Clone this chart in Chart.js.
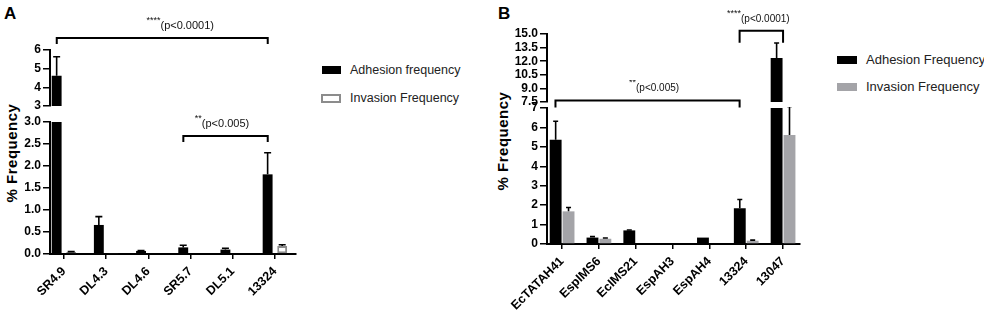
<!DOCTYPE html>
<html>
<head>
<meta charset="utf-8">
<title>Adhesion and invasion frequency</title>
<script src="https://cdn.jsdelivr.net/npm/chart.js"></script>
<style>
  body { margin: 0; background: #fff; font-family: "Liberation Sans", Arial, sans-serif; }
  #wrap { position: relative; width: 984px; height: 318px; overflow: hidden; }
  #wrap canvas { position: absolute; }
  .panel { position: absolute; font-weight: bold; font-size: 17px; line-height: 17px; }
  .ytitle {
    position: absolute; font-weight: bold; font-size: 15px; letter-spacing: 0.5px; white-space: nowrap;
    transform: translate(-50%, -50%) rotate(-90deg);
  }
  .key { position: absolute; color: #222; white-space: nowrap; line-height: 14px; }
  .swatch { position: absolute; box-sizing: border-box; }
</style>
</head>
<body>
<div id="wrap">
  <div class="panel" style="left:4px;top:5px">A</div>
  <div class="panel" style="left:498px;top:5px">B</div>
  <div class="ytitle" style="left:11px;top:153px">% Frequency</div>
  <div class="ytitle" style="left:502px;top:141px">% Frequency</div>

  <canvas id="topA" width="310" height="110" style="left:0;top:0"></canvas>
  <canvas id="botA" width="310" height="218" style="left:0;top:100px"></canvas>
  <canvas id="topB" width="330" height="106" style="left:490px;top:0"></canvas>
  <canvas id="botB" width="330" height="238" style="left:490px;top:80px"></canvas>

  <!-- legends -->
  <div class="swatch" style="left:322px;top:66px;width:19px;height:8px;background:#000"></div>
  <div class="key" style="left:350px;top:63px;font-size:12.5px">Adhesion frequency</div>
  <div class="swatch" style="left:321px;top:94px;width:20px;height:9px;background:#fff;border:2px solid #8c8c8c"></div>
  <div class="key" style="left:350px;top:91px;font-size:12.5px">Invasion Frequency</div>

  <div class="swatch" style="left:837px;top:56px;width:20px;height:8px;background:#000"></div>
  <div class="key" style="left:866px;top:53px;font-size:13px">Adhesion Frequency</div>
  <div class="swatch" style="left:837px;top:83px;width:20px;height:8px;background:#a4a4a8"></div>
  <div class="key" style="left:866px;top:80px;font-size:13px">Invasion Frequency</div>
</div>

<script>
  // ----- Panel A data -----
  const catsA = ['SR4.9', 'DL4.3', 'DL4.6', 'SR5.7', 'DL5.1', '13324'];
  const adhesionA = [4.62, 0.66, 0.07, 0.15, 0.10, 1.81];
  const adhesionSdA = [1.02, 0.19, 0.01, 0.05, 0.03, 0.49];
  const invasionA = [0.045, 0.01, 0.0, 0.0, 0.0, 0.18];
  const invasionSdA = [0.01, 0.0, 0.0, 0.0, 0.0, 0.03];
  const ticksTopA = [3, 4, 5, 6];
  const ticksBottomA = [0, 0.5, 1, 1.5, 2, 2.5, 3];

  // ----- Panel B data -----
  const catsB = ['EcTATAH41', 'EspIMS6', 'EcIMS21', 'EspAH3', 'EspAH4', '13324', '13047'];
  const adhesionB = [5.37, 0.33, 0.70, 0.0, 0.33, 1.84, 12.35];
  const adhesionSdB = [0.95, 0.05, 0.02, 0.0, 0.0, 0.45, 1.65];
  const invasionB = [1.68, 0.27, 0.0, 0.0, 0.0, 0.17, 5.61];
  const invasionSdB = [0.2, 0.04, 0.0, 0.0, 0.0, 0.03, 1.47];
  const ticksTopB = [7.5, 9, 10.5, 12, 13.5, 15];
  const ticksBottomB = [0, 1, 2, 3, 4, 5, 6, 7];

  const FONT = '"Liberation Sans", Arial, sans-serif';

  // error bars (mean + SD, upward only) and significance brackets
  const extras = {
    id: 'extras',
    afterDatasetsDraw(chart, args, opts) {
      const ctx = chart.ctx, xs = chart.scales.x, ys = chart.scales.y, a = chart.chartArea;
      ctx.save();
      ctx.beginPath();
      ctx.rect(a.left, a.top - 1, a.right - a.left, a.bottom - a.top + 1);
      ctx.clip();
      ctx.strokeStyle = '#000';
      ctx.lineWidth = 1.6;
      chart.data.datasets.forEach((ds, di) => {
        const meta = chart.getDatasetMeta(di);
        ds.sd.forEach((sd, i) => {
          if (!sd) return;
          const x = meta.data[i].x;
          const y0 = ys.getPixelForValue(ds.vals[i]);
          const y1 = ys.getPixelForValue(ds.vals[i] + sd);
          ctx.beginPath();
          ctx.moveTo(x, y0); ctx.lineTo(x, y1);
          ctx.moveTo(x - opts.cap, y1); ctx.lineTo(x + opts.cap, y1);
          ctx.stroke();
        });
      });
      ctx.restore();

      ctx.save();
      ctx.strokeStyle = '#000';
      ctx.fillStyle = '#111';
      ctx.lineWidth = 2;
      (opts.brackets || []).forEach(b => {
        const x1 = xs.getPixelForValue(b.from), x2 = xs.getPixelForValue(b.to);
        const y = ys.getPixelForValue(b.at);
        ctx.beginPath();
        ctx.moveTo(x1, y + b.drop); ctx.lineTo(x1, y); ctx.lineTo(x2, y); ctx.lineTo(x2, y + b.drop);
        ctx.stroke();
        ctx.font = b.size + 'px ' + FONT;
        const w = ctx.measureText(b.text).width;
        const tx = (x1 + x2) / 2 - w / 2 + (b.dx || 0);
        ctx.textAlign = 'left';
        ctx.textBaseline = 'alphabetic';
        ctx.fillText(b.text, tx, y - 9);
        ctx.font = '9px ' + FONT;
        ctx.textAlign = 'right';
        ctx.fillText(b.stars, tx, y - 15);
      });
      ctx.restore();
    }
  };

  function segment(id, o) {
    const lo = o.ticks[0];
    const keep = v => (lo === 0 || v > lo) ? v : null;
    const pts = vals => vals.map((v, i) => ({ x: i, y: keep(v) }));
    return new Chart(document.getElementById(id), {
      type: 'bar',
      data: {
        datasets: [
          { label: 'Adhesion', data: pts(o.adh), vals: o.adh, sd: o.adhSd,
            backgroundColor: '#000', borderWidth: 0 },
          { label: 'Invasion', data: pts(o.inv), vals: o.inv, sd: o.invSd,
            backgroundColor: o.invFill, borderColor: o.invLine, borderWidth: o.invBorder, borderSkipped: false }
        ]
      },
      options: {
        responsive: false,
        animation: false,
        layout: { padding: o.pad },
        datasets: { bar: { categoryPercentage: o.catPct, barPercentage: o.barPct } },
        plugins: {
          legend: { display: false },
          tooltip: { enabled: false },
          extras: { cap: o.cap, brackets: o.brackets || [] }
        },
        scales: {
          x: {
            type: 'linear', min: o.xMin, max: o.xMax, offset: false,
            display: o.showX,
            afterBuildTicks: s => { s.ticks = o.cats.map((c, i) => ({ value: i })); },
            afterFit: s => { s.height = o.xHeight || 0; s.paddingLeft = 0; s.paddingRight = 0; },
            grid: { offset: false, drawOnChartArea: false, color: '#000', lineWidth: 1.5, tickLength: 5 },
            border: { color: '#000', width: 2 },
            ticks: {
              autoSkip: false, minRotation: 45, maxRotation: 45, padding: 5, color: '#000',
              font: { family: FONT, size: 12.5, weight: 'bold' },
              callback: v => o.cats[v]
            }
          },
          y: {
            min: lo, max: o.ticks[o.ticks.length - 1],
            afterBuildTicks: s => { s.ticks = o.ticks.map(v => ({ value: v })); },
            afterFit: s => { s.width = o.yWidth; s.paddingTop = 0; s.paddingBottom = 0; },
            grid: { drawOnChartArea: false, color: '#000', lineWidth: 1.5, tickLength: 7 },
            border: { color: '#000', width: 2 },
            ticks: {
              autoSkip: false, padding: 2, color: '#000',
              font: { family: FONT, size: 12, weight: 'bold' },
              callback: v => v.toFixed(o.dec)
            }
          }
        }
      },
      plugins: [extras]
    });
  }

  const baseA = {
    cats: catsA, adh: adhesionA, adhSd: adhesionSdA, inv: invasionA, invSd: invasionSdA,
    invFill: '#fff', invLine: '#8c8c8c', invBorder: 2,
    xMin: -0.33, xMax: 5.5, yWidth: 50, catPct: 0.69, barPct: 0.68, cap: 3.5
  };
  const baseB = {
    cats: catsB, adh: adhesionB, adhSd: adhesionSdB, inv: invasionB, invSd: invasionSdB,
    invFill: '#a4a4a8', invLine: '#a4a4a8', invBorder: 0,
    xMin: -0.41, xMax: 6.46, yWidth: 57, catPct: 0.70, barPct: 0.92, cap: 2.5
  };

  segment('topA', Object.assign({}, baseA, {
    ticks: ticksTopA, dec: 0, showX: false,
    pad: { top: 50, bottom: 4, left: 0, right: 14 },
    brackets: [{ from: -0.17, to: 4.83, at: 6.64, drop: 6, size: 11, dx: 25, stars: '****', text: '(p<0.0001)' }]
  }));
  segment('botA', Object.assign({}, baseA, {
    ticks: ticksBottomA, dec: 1, showX: true, xHeight: 64,
    pad: { top: 22, bottom: 0, left: 0, right: 14 },
    brackets: [{ from: 2.83, to: 4.83, at: 2.68, drop: 6, size: 11, dx: 0, stars: '**', text: '(p<0.005)' }]
  }));
  segment('topB', Object.assign({}, baseB, {
    ticks: ticksTopB, dec: 1, showX: false,
    pad: { top: 34, bottom: 4, left: 0, right: 20 },
    brackets: [{ from: 4.82, to: 6, at: 15.36, drop: 12, size: 10, dx: 4, stars: '****', text: '(p<0.0001)' }]
  }));
  segment('botB', Object.assign({}, baseB, {
    ticks: ticksBottomB, dec: 0, showX: true, xHeight: 74,
    pad: { top: 28, bottom: 0, left: 0, right: 20 },
    brackets: [{ from: -0.18, to: 4.82, at: 7.39, drop: 7, size: 10, dx: 10, stars: '**', text: '(p<0.005)' }]
  }));
</script>
</body>
</html>
